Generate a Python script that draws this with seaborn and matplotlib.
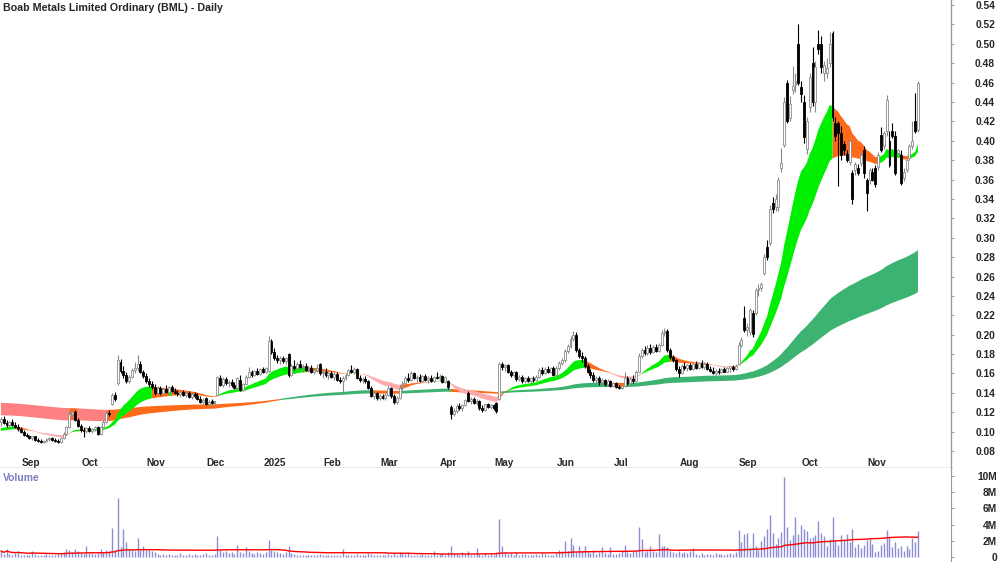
import numpy as np
import pandas as pd
import matplotlib
matplotlib.use("Agg")
import matplotlib.pyplot as plt
import matplotlib.transforms as mtransforms
import seaborn as sns

title = "Boab Metals Limited Ordinary (BML) - Daily"

asx_holidays = ["2024-12-25", "2024-12-26", "2025-01-01", "2025-01-27",
                "2025-04-18", "2025-04-21", "2025-04-25", "2025-06-09"]
dates = pd.bdate_range("2024-08-23", "2025-11-28", freq="C", holidays=asx_holidays)

# daily OHLC (AUD)
opens = [
    .110, .113, .109, .107, .110, .107, .105, .103, .100, .097,
    .095, .093, .095, .091, .090, .089, .090, .092, .093, .091,
    .090, .089, .093, .098, .105, .118, .120, .112, .106, .102,
    .101, .104, .101, .103, .105, .098, .105, .110, .119, .128,
    .138, .150, .172, .163, .158, .152, .156, .164, .166, .170,
    .161, .157, .152, .149, .146, .140, .145, .140, .144, .141,
    .146, .142, .140, .139, .141, .138, .140, .136, .139, .137,
    .134, .131, .135, .128, .131, .130, .138, .155, .148, .154,
    .150, .151, .148, .145, .153, .143, .149, .156, .162, .158,
    .163, .159, .165, .161, .163, .194, .182, .176, .174, .176,
    .173, .180, .158, .168, .166, .170, .167, .168, .164, .166,
    .161, .164, .170, .160, .162, .158, .160, .156, .159, .153,
    .152, .155, .158, .164, .162, .165, .155, .153, .154, .152,
    .145, .137, .140, .135, .137, .135, .138, .145, .137, .131,
    .135, .145, .150, .155, .153, .160, .155, .156, .152, .157,
    .153, .155, .152, .156, .155, .157, .151, .152, .125, .118,
    .121, .126, .124, .127, .140, .132, .134, .130, .132, .124,
    .122, .128, .125, .127, .130, .134, .170, .167, .169, .161,
    .158, .161, .154, .156, .152, .155, .152, .155, .153, .156,
    .164, .160, .165, .161, .166, .158, .166, .171, .174, .183,
    .188, .196, .200, .184, .178, .176, .168, .162, .158, .153,
    .155, .151, .153, .149, .152, .147, .150, .146, .145, .147,
    .155, .150, .154, .152, .162, .178, .184, .181, .186, .182,
    .187, .183, .189, .202, .204, .184, .177, .174, .165, .160,
    .168, .166, .169, .165, .170, .166, .171, .167, .170, .165,
    .163, .160, .163, .161, .165, .162, .166, .167, .165, .170,
    .189, .217, .205, .203, .222, .222, .246, .248, .264, .290,
    .295, .336, .332, .332, .372, .396, .460, .424, .452, .458,
    .500, .455, .440, .392, .435, .480, .440, .500, .500, .470,
    .470, .480, .511, .418, .418, .408, .397, .386, .378, .367,
    .370, .372, .377, .390, .360, .360, .368, .372, .373, .406,
    .395, .410, .400, .410, .405, .387, .385, .362, .370, .382,
    .395, .420, .411,
]
highs = [
    .115, .116, .112, .111, .113, .110, .108, .105, .102, .099,
    .097, .096, .096, .093, .092, .091, .093, .094, .094, .093,
    .092, .094, .100, .106, .121, .122, .122, .114, .108, .105,
    .105, .106, .104, .106, .106, .106, .112, .121, .122, .140,
    .141, .179, .175, .168, .162, .158, .166, .172, .179, .173,
    .164, .160, .155, .152, .149, .147, .147, .146, .148, .147,
    .148, .145, .143, .142, .143, .142, .142, .140, .141, .140,
    .137, .135, .136, .133, .134, .132, .157, .158, .156, .156,
    .153, .154, .151, .156, .158, .150, .158, .167, .164, .164,
    .166, .166, .167, .167, .199, .196, .186, .179, .178, .178,
    .177, .181, .170, .174, .172, .174, .170, .171, .168, .169,
    .166, .170, .171, .164, .166, .162, .163, .161, .162, .156,
    .157, .160, .165, .169, .167, .166, .158, .156, .157, .153,
    .147, .142, .141, .139, .139, .140, .147, .146, .139, .137,
    .147, .152, .157, .160, .163, .162, .158, .159, .158, .159,
    .157, .158, .157, .162, .159, .158, .157, .153, .127, .124,
    .128, .130, .128, .134, .142, .136, .136, .134, .133, .127,
    .129, .130, .129, .129, .131, .172, .172, .170, .170, .164,
    .163, .163, .158, .158, .156, .157, .156, .157, .158, .166,
    .167, .167, .168, .167, .168, .168, .173, .176, .185, .190,
    .199, .204, .203, .186, .182, .178, .170, .165, .161, .157,
    .157, .155, .154, .154, .153, .151, .151, .148, .149, .161,
    .157, .156, .158, .164, .181, .186, .188, .189, .190, .189,
    .190, .191, .205, .207, .206, .186, .179, .175, .168, .170,
    .172, .170, .171, .171, .173, .172, .174, .172, .172, .168,
    .167, .165, .166, .166, .167, .167, .168, .169, .170, .192,
    .198, .230, .212, .228, .225, .248, .252, .254, .283, .298,
    .334, .342, .345, .363, .393, .445, .463, .446, .477, .470,
    .520, .462, .447, .425, .470, .497, .482, .514, .508, .482,
    .485, .512, .513, .425, .420, .415, .400, .390, .402, .370,
    .378, .376, .388, .395, .362, .372, .372, .375, .388, .414,
    .410, .447, .410, .418, .410, .392, .390, .372, .382, .397,
    .420, .449, .462,
]
lows = [
    .106, .108, .105, .104, .106, .104, .101, .099, .096, .094,
    .092, .091, .090, .089, .088, .088, .089, .090, .090, .089,
    .088, .088, .092, .097, .104, .115, .111, .105, .100, .094,
    .099, .100, .099, .101, .097, .097, .104, .109, .116, .127,
    .132, .148, .160, .155, .150, .150, .155, .160, .163, .160,
    .155, .150, .146, .144, .138, .139, .138, .139, .140, .140,
    .141, .139, .137, .136, .137, .136, .135, .134, .135, .133,
    .130, .128, .127, .126, .128, .127, .137, .147, .146, .148,
    .146, .146, .144, .144, .142, .142, .148, .155, .156, .157,
    .158, .158, .160, .160, .162, .180, .174, .171, .170, .171,
    .170, .156, .157, .164, .164, .166, .162, .163, .161, .160,
    .159, .162, .158, .155, .156, .154, .155, .153, .152, .150,
    .140, .153, .157, .160, .159, .154, .151, .150, .150, .144,
    .136, .134, .133, .133, .134, .133, .137, .135, .128, .129,
    .134, .143, .148, .151, .152, .154, .151, .151, .151, .152,
    .150, .151, .151, .154, .152, .150, .150, .144, .113, .116,
    .119, .122, .121, .126, .131, .129, .128, .127, .122, .120,
    .121, .124, .123, .122, .119, .133, .164, .163, .160, .156,
    .156, .152, .152, .150, .150, .151, .150, .151, .152, .155,
    .158, .159, .160, .160, .157, .157, .164, .169, .172, .181,
    .186, .194, .182, .176, .172, .166, .160, .155, .151, .150,
    .148, .148, .147, .147, .146, .146, .145, .144, .144, .146,
    .148, .149, .150, .151, .161, .176, .179, .179, .180, .181,
    .182, .182, .188, .199, .182, .175, .172, .163, .156, .159,
    .164, .163, .164, .164, .165, .165, .166, .165, .164, .161,
    .159, .158, .159, .160, .161, .161, .162, .163, .164, .169,
    .187, .203, .199, .200, .198, .220, .240, .245, .262, .277,
    .293, .326, .328, .328, .368, .394, .418, .420, .448, .450,
    .458, .440, .398, .386, .430, .436, .430, .490, .470, .462,
    .465, .476, .420, .400, .353, .380, .385, .378, .375, .335,
    .365, .365, .374, .362, .328, .355, .358, .352, .370, .388,
    .392, .405, .373, .403, .365, .384, .354, .358, .368, .380,
    .392, .408, .409,
]
closes = [
    .113, .109, .107, .110, .107, .105, .103, .100, .097, .095,
    .093, .095, .091, .090, .089, .090, .092, .093, .091, .090,
    .089, .093, .098, .105, .118, .120, .112, .106, .102, .101,
    .104, .101, .103, .105, .098, .105, .110, .119, .118, .138,
    .134, .174, .163, .158, .152, .156, .164, .166, .170, .161,
    .157, .152, .149, .146, .140, .145, .140, .144, .141, .146,
    .142, .140, .139, .141, .138, .140, .136, .139, .137, .134,
    .131, .133, .128, .131, .130, .131, .156, .148, .154, .150,
    .151, .148, .145, .155, .143, .149, .156, .162, .158, .163,
    .159, .165, .161, .166, .194, .182, .176, .174, .176, .173,
    .176, .158, .168, .166, .170, .167, .168, .164, .166, .161,
    .164, .165, .160, .162, .158, .160, .156, .159, .153, .152,
    .155, .158, .164, .162, .165, .155, .153, .154, .152, .145,
    .137, .140, .135, .137, .135, .138, .145, .137, .131, .135,
    .145, .150, .155, .153, .160, .155, .156, .152, .157, .153,
    .155, .152, .156, .155, .157, .151, .156, .146, .118, .121,
    .126, .124, .127, .133, .132, .134, .130, .132, .124, .122,
    .128, .125, .127, .124, .121, .170, .167, .169, .161, .158,
    .161, .154, .156, .152, .155, .152, .155, .153, .156, .164,
    .160, .165, .161, .166, .158, .166, .171, .174, .183, .188,
    .196, .200, .184, .178, .176, .168, .162, .158, .153, .155,
    .151, .153, .149, .152, .147, .150, .146, .145, .147, .155,
    .150, .154, .152, .162, .178, .184, .181, .186, .182, .187,
    .183, .189, .202, .204, .184, .177, .174, .165, .160, .168,
    .166, .169, .165, .170, .166, .171, .167, .170, .165, .163,
    .160, .163, .161, .165, .162, .166, .167, .165, .168, .189,
    .195, .205, .208, .225, .201, .246, .248, .252, .280, .280,
    .330, .330, .340, .360, .377, .440, .420, .438, .457, .462,
    .460, .448, .404, .420, .466, .440, .476, .495, .476, .478,
    .475, .500, .425, .405, .408, .385, .390, .380, .400, .340,
    .376, .367, .385, .367, .346, .370, .360, .355, .385, .390,
    .408, .442, .375, .405, .367, .390, .356, .368, .380, .395,
    .400, .410, .460,
]
# daily volume, millions of shares
volumes_m = [
    0.75, 0.40, 1.00, 0.35, 0.30, 0.45, 0.70, 0.30, 0.25, 0.30,
    0.30, 0.80, 0.35, 0.25, 0.30, 0.20, 0.35, 0.30, 0.25, 0.30,
    0.35, 0.45, 0.60, 1.00, 0.90, 0.60, 1.00, 0.70, 0.50, 0.40,
    1.40, 0.50, 0.45, 0.40, 0.50, 1.00, 0.60, 0.90, 0.80, 3.60,
    0.90, 7.30, 1.20, 3.40, 1.80, 1.00, 0.90, 0.80, 2.30, 0.90,
    1.40, 0.90, 0.90, 0.80, 0.60, 0.40, 0.30, 0.35, 0.25, 0.40,
    0.30, 0.30, 0.25, 0.45, 0.30, 0.20, 0.35, 0.30, 0.40, 0.25,
    0.30, 0.35, 0.45, 0.30, 0.25, 0.40, 2.60, 0.90, 0.60, 0.70,
    0.50, 0.60, 0.40, 1.50, 0.60, 0.50, 1.20, 0.70, 0.50, 0.40,
    0.60, 0.50, 0.40, 0.60, 2.10, 0.90, 0.70, 0.60, 0.50, 0.40,
    0.60, 1.30, 0.50, 0.40, 0.30, 0.25, 0.20, 0.30, 0.20, 0.25,
    0.30, 0.20, 0.35, 0.25, 0.20, 0.30, 0.20, 0.25, 0.30, 0.20,
    0.95, 0.30, 0.25, 0.20, 0.30, 0.40, 0.25, 0.20, 0.30, 0.50,
    0.40, 0.30, 0.20, 0.25, 0.30, 0.20, 0.35, 0.30, 0.45, 0.30,
    0.60, 0.50, 0.40, 0.60, 0.30, 0.25, 0.30, 0.20, 0.40, 0.30,
    0.25, 0.30, 0.80, 0.30, 0.35, 0.50, 0.30, 0.60, 1.40, 0.50,
    0.40, 0.30, 0.60, 0.40, 0.70, 0.30, 0.25, 1.10, 0.40, 0.30,
    0.50, 0.30, 0.40, 0.30, 0.60, 4.70, 1.30, 0.60, 0.40, 0.50,
    0.30, 0.60, 0.30, 0.35, 0.40, 0.30, 0.25, 0.30, 0.40, 0.30,
    0.50, 0.40, 0.30, 0.25, 0.30, 0.50, 0.85, 0.80, 2.00, 0.70,
    2.40, 1.50, 0.60, 1.30, 0.70, 1.40, 0.60, 0.50, 0.90, 0.40,
    0.60, 1.20, 0.50, 0.40, 1.20, 0.40, 0.35, 0.50, 0.90, 1.50,
    0.60, 0.50, 0.70, 0.80, 3.70, 2.20, 0.60, 0.80, 1.40, 0.70,
    0.60, 2.80, 1.30, 1.40, 1.20, 0.80, 0.60, 0.50, 0.70, 0.50,
    0.60, 0.50, 0.70, 1.10, 0.40, 0.30, 0.50, 0.30, 0.40, 0.35,
    0.30, 0.45, 0.35, 0.40, 0.30, 0.35, 0.50, 0.40, 0.60, 3.30,
    1.80, 2.80, 3.00, 1.10, 3.00, 1.40, 0.90, 2.00, 2.60, 3.50,
    5.20, 3.00, 1.60, 2.30, 3.10, 9.90, 3.70, 2.10, 2.70, 4.90,
    2.90, 4.00, 3.50, 3.20, 2.30, 2.50, 2.70, 4.50, 3.00, 2.60,
    1.40, 2.20, 5.00, 2.10, 1.50, 2.70, 2.10, 2.80, 1.90, 3.40,
    1.20, 1.60, 1.10, 1.50, 2.10, 2.20, 1.60, 0.60, 0.70, 1.50,
    1.70, 3.30, 2.50, 1.20, 1.80, 1.10, 1.30, 0.70, 1.30, 1.00,
    2.40, 1.80, 3.20,
]

# moving-average ribbons (EMA spans) and their values on the first day shown
short_spans = [18, 21, 24, 27, 30, 34]
short_start = [0.1025, 0.1020, 0.1015, 0.1010, 0.1005, 0.1000]
long_spans = [150, 170, 190, 210, 230, 250]
long_start = [0.117, 0.1195, 0.122, 0.1245, 0.127, 0.130]
volume_ma_days = 60

price_ticks = [0.08, 0.10, 0.12, 0.14, 0.16, 0.18, 0.20, 0.22, 0.24, 0.26, 0.28,
               0.30, 0.32, 0.34, 0.36, 0.38, 0.40, 0.42, 0.44, 0.46, 0.48, 0.50,
               0.52, 0.54]
volume_ticks = [0, 2, 4, 6, 8, 10]
volume_labels = ["0", "2M", "4M", "6M", "8M", "10M"]

assert len(dates) == len(closes) == len(opens) == len(highs) == len(lows) == len(volumes_m)

sns.set_style("white")
plt.rcParams["font.family"] = ["Liberation Sans", "DejaVu Sans"]

df = pd.DataFrame({"date": dates, "open": opens, "high": highs, "low": lows,
                   "close": closes, "volume": volumes_m})
df["x"] = np.arange(len(df))
df["vol_ma"] = df["volume"].rolling(volume_ma_days, min_periods=1).mean()


def ema(values, span, start):
    a = 2.0 / (span + 1)
    out, e = [], start
    for v in values:
        e = e + a * (v - e)
        out.append(e)
    return np.array(out)


def ribbon(ax, spans, starts, green, pink, orange, z):
    stack = np.vstack([ema(df["close"], s, s0) for s, s0 in zip(spans, starts)])
    fast_above = stack[0] > stack[-1]
    fast_up = np.r_[stack[0][0] > starts[0], np.diff(stack[0]) > 0]
    bull = fast_above & fast_up            # trend and slope agree: up
    bear = ~fast_above & ~fast_up          # trend and slope agree: down
    mixed = ~(bull | bear)
    lo, hi = stack.min(axis=0), stack.max(axis=0)
    for mask, col in [(mixed, orange), (bear, pink), (bull, green)]:
        m = mask | np.r_[False, mask[:-1]]
        ax.fill_between(df["x"], lo, hi, where=m, color=col, lw=0, zorder=z)


W, H = 1000, 562
fig = plt.figure(figsize=(W / 100, H / 100), dpi=100)
ax = fig.add_axes([0, 1 - 468 / H, 951 / W, 468 / H])
axv = fig.add_axes([0, 0, 951 / W, 94 / H])

grey = "#9a9a9a"
xlim = (-0.32, 333.6)

# price panel
ribbon(ax, long_spans, long_start, "#3cb371", "#ff8080", "#ff6a1a", 1)
ribbon(ax, short_spans, short_start, "#00ee00", "#ffaaaa", "#ff6a1a", 1.5)

up = df["close"] >= df["open"]
wick_col = np.where(up, "#8a8a8a", "black")
ax.vlines(df["x"], df["low"], df["high"], colors=wick_col, lw=0.8, zorder=2)
body_lo = np.minimum(df["open"], df["close"])
body_h = np.maximum((df["close"] - df["open"]).abs(), 0.0012)
ax.bar(df["x"], body_h, bottom=body_lo, width=0.68,
       color=np.where(up, "white", "black"),
       edgecolor=np.where(up, "#8a8a8a", "black"), linewidth=0.6, zorder=3)

ax.set_xlim(*xlim)
ax.set_ylim(0.0625, 0.5452)
for s in ["left", "top"]:
    ax.spines[s].set_visible(False)
for s in ["right", "bottom"]:
    ax.spines[s].set_color(grey)
    ax.spines[s].set_linewidth(1.0)

ax.yaxis.tick_right()
ax.set_yticks(price_ticks)
ax.set_yticklabels([f"{p:.2f}" for p in price_ticks], fontsize=7.4, fontweight="bold")
ax.tick_params(axis="y", direction="out", length=2.2, width=0.7, color=grey, pad=29.5)
for t in ax.get_yticklabels():
    t.set_ha("right")

new_month = df["date"].dt.month != df["date"].dt.month.shift(1)
new_month.iloc[0] = False
month_x = df.loc[new_month, "x"].tolist()
month_lbl = [d.strftime("%Y") if d.month == 1 else d.strftime("%b")
             for d in df.loc[new_month, "date"]]
ax.set_xticks(month_x)
ax.set_xticklabels(month_lbl, fontsize=7.2, fontweight="bold")
ax.tick_params(axis="x", direction="in", length=8, width=0.8, color=grey, pad=-7.2)
shift = mtransforms.ScaledTranslation(2.5 / 72, 0, fig.dpi_scale_trans)
for t in ax.get_xticklabels():
    t.set_ha("left")
    t.set_transform(t.get_transform() + shift)

fig.text(3 / W, 1 - 8 / H, title, fontsize=7.7, fontweight="bold", va="center", ha="left")

# volume panel
axv.vlines(df["x"], 0, df["volume"], colors="#8c8cd4", lw=1.0, zorder=1)
sns.lineplot(x=df["x"], y=df["vol_ma"], ax=axv, color="red", lw=1.0, zorder=2)
axv.set_xlim(*xlim)
axv.set_ylim(-0.62, 11.0)
axv.set_xticks([])
axv.set_xlabel("")
axv.set_ylabel("")
for s in ["left", "top", "bottom"]:
    axv.spines[s].set_visible(False)
axv.spines["right"].set_color(grey)
axv.yaxis.tick_right()
axv.set_yticks(volume_ticks)
axv.set_yticklabels(volume_labels, fontsize=7.4, fontweight="bold")
axv.tick_params(axis="y", direction="out", length=2.2, width=0.7, color=grey, pad=31)
for t in axv.get_yticklabels():
    t.set_ha("right")
axv.text(3 / 951, 0.895, "Volume", transform=axv.transAxes, color="#7b7bc2",
         fontsize=7.4, fontweight="bold", va="center", ha="left")

fig.savefig("out.png", dpi=100)
